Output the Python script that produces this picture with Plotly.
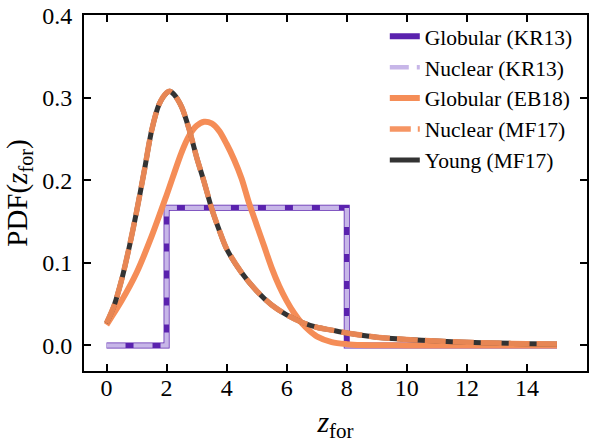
import plotly.graph_objects as go

# ---- data ----
kr13_z = [0, 2, 2, 8, 8, 15]
kr13_pdf = [0.0, 0.0, 0.1667, 0.1667, 0.0, 0.0]

mf17_z = [0, 0.25, 0.5, 0.75, 1.0, 1.25, 1.5, 1.75, 2.0, 2.1, 2.25, 2.5, 2.75,
          3.0, 3.25, 3.5, 3.75, 4.0, 4.5, 5.0, 5.5, 6.0, 6.5, 7.0, 7.5, 8.0,
          9.0, 10.0, 11.0, 12.0, 13.0, 14.0, 15.0]
mf17_pdf = [0.027, 0.048, 0.079, 0.118, 0.162, 0.210, 0.260, 0.292, 0.306, 0.308,
            0.304, 0.289, 0.262, 0.228, 0.198, 0.166, 0.140, 0.117, 0.088, 0.066,
            0.049, 0.037, 0.028, 0.022, 0.0185, 0.015, 0.010, 0.0072, 0.0052,
            0.0038, 0.0028, 0.0021, 0.0016]

eb18_z = [0, 0.5, 1.0, 1.5, 2.0, 2.5, 2.75, 3.0, 3.25, 3.5, 3.75, 4.0, 4.25,
          4.5, 4.75, 5.0, 5.25, 5.5, 5.75, 6.0, 6.25, 6.5, 6.75, 7.0, 7.5, 8.0,
          8.5, 9.0, 10.0, 12.0, 15.0]
eb18_pdf = [0.025, 0.054, 0.088, 0.132, 0.182, 0.234, 0.254, 0.266, 0.271,
            0.269, 0.260, 0.244, 0.225, 0.202, 0.172, 0.146, 0.120, 0.094,
            0.072, 0.054, 0.039, 0.027, 0.018, 0.011, 0.004, 0.0015, 0.0005,
            0.0002, 0.0, 0.0, 0.0]

xticks = [0, 2, 4, 6, 8, 10, 12, 14]
yticks = [0.0, 0.1, 0.2, 0.3, 0.4]

PURPLE = "#5A22AE"
LILAC = "#C7B6E8"
ORANGE = "#F58D57"
DARK = "#333333"
FONT = "Liberation Serif"

fig = go.Figure()
fig.add_trace(go.Scatter(x=kr13_z, y=kr13_pdf, mode="lines", name="Globular (KR13)",
                         line=dict(color=PURPLE, width=6), legendrank=1))
fig.add_trace(go.Scatter(x=kr13_z, y=kr13_pdf, mode="lines", name="Nuclear (KR13)",
                         line=dict(color=LILAC, width=4.5, dash="19px,8px"),
                         legendrank=2))
fig.add_trace(go.Scatter(x=eb18_z, y=eb18_pdf, mode="lines", name="Globular (EB18)",
                         line=dict(color=ORANGE, width=6, shape="spline", smoothing=0.8),
                         legendrank=3))
fig.add_trace(go.Scatter(x=mf17_z, y=mf17_pdf, mode="lines", name="Young (MF17)",
                         line=dict(color=DARK, width=5, shape="spline", smoothing=0.8),
                         legendrank=5))
fig.add_trace(go.Scatter(x=mf17_z, y=mf17_pdf, mode="lines", name="Nuclear (MF17)",
                         line=dict(color=ORANGE, width=5.5, dash="21px,7px",
                                   shape="spline", smoothing=0.8),
                         opacity=0.93, legendrank=4))

axis_common = dict(showline=True, linewidth=2, linecolor="black", mirror="allticks",
                   ticks="inside", ticklen=7, tickwidth=2, tickcolor="black",
                   showgrid=False, zeroline=False, ticklabeloverflow="allow",
                   tickfont=dict(family=FONT, size=24, color="black"))

fig.update_xaxes(range=[-0.75, 16], tickvals=xticks, ticktext=[str(t) for t in xticks],
                 title=dict(text="<i>z</i><sub>for</sub>", standoff=12,
                            font=dict(family=FONT, size=30, color="black")),
                 ticklabelstandoff=-6, **axis_common)
fig.update_yaxes(range=[-0.031, 0.4003], tickvals=yticks,
                 ticktext=[f"{t:.1f}" for t in yticks],
                 title=dict(text="PDF(<i>z</i><sub>for</sub>)", standoff=6,
                            font=dict(family=FONT, size=29, color="black")),
                 ticklabelstandoff=5, **axis_common)

fig.update_layout(width=592, height=443, margin=dict(l=84, r=3, t=12, b=72),
                  plot_bgcolor="white", paper_bgcolor="white",
                  font=dict(family=FONT, color="black"),
                  legend=dict(x=0.598, y=0.998, xanchor="left", yanchor="top",
                              bgcolor="rgba(0,0,0,0)",
                              font=dict(family=FONT, size=21.5, color="black")))

fig.write_html("out.html")
